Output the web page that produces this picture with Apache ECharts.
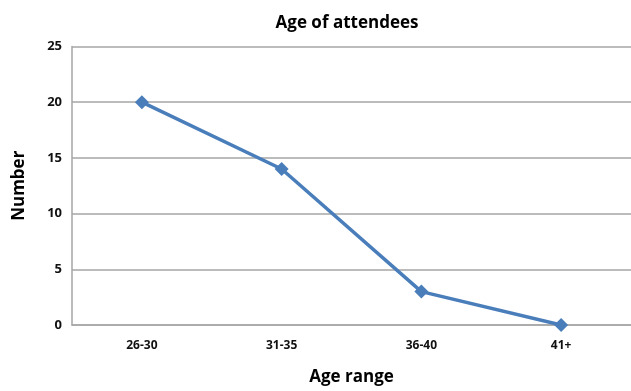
<!DOCTYPE html>
<html>
<head>
<meta charset="utf-8">
<script src="https://cdn.jsdelivr.net/npm/echarts@6/dist/echarts.min.js"></script>
<style>html,body{margin:0;padding:0;background:#fff}#c{width:631px;height:391px}</style>
</head>
<body>
<div id="c"></div>
<script>
var categories = ['26-30', '31-35', '36-40', '41+'];
var counts = [20, 14, 3, 0];
var yTicks = [0, 5, 10, 15, 20, 25];

var chart = echarts.init(document.getElementById('c'), null, {renderer: 'canvas'});
var font = '"Open Sans", "DejaVu Sans", sans-serif';
chart.setOption({
  animation: false,
  backgroundColor: '#ffffff',
  title: {
    text: 'Age of attendees',
    left: 342, top: 10, textAlign: 'center',
    textStyle: {fontFamily: font, fontSize: 17, fontWeight: 'bold', color: '#000'}
  },
  grid: {left: 72, top: 46.5, width: 564, height: 283, containLabel: false},
  xAxis: {
    type: 'category',
    data: categories,
    boundaryGap: true,
    name: 'Age range',
    nameLocation: 'middle',
    nameGap: 44,
    nameTextStyle: {fontFamily: font, fontSize: 17, fontWeight: 'bold', color: '#000'},
    axisLine: {show: true, lineStyle: {color: '#a6a6a6', width: 1.5}},
    axisTick: {show: false},
    axisLabel: {fontFamily: font, fontSize: 12, fontWeight: 'bold', color: '#111', margin: 15}
  },
  yAxis: {
    type: 'value',
    min: yTicks[0], max: yTicks[yTicks.length - 1], interval: 5,
    name: 'Number',
    nameLocation: 'middle',
    nameGap: 44,
    nameRotate: 90,
    nameTextStyle: {fontFamily: font, fontSize: 17, fontWeight: 'bold', color: '#000'},
    axisLine: {show: true, lineStyle: {color: '#a6a6a6', width: 1.5}},
    axisTick: {show: false},
    axisLabel: {fontFamily: font, fontSize: 13, fontWeight: 'bold', color: '#111', margin: 10},
    splitLine: {show: true, lineStyle: {color: '#a6a6a6', width: 1.5}}
  },
  series: [{
    type: 'line',
    data: counts,
    symbol: 'diamond',
    symbolSize: 14,
    lineStyle: {color: '#4a7ebb', width: 3.5},
    itemStyle: {color: '#4a7ebb'}
  }]
});
</script>
</body>
</html>
